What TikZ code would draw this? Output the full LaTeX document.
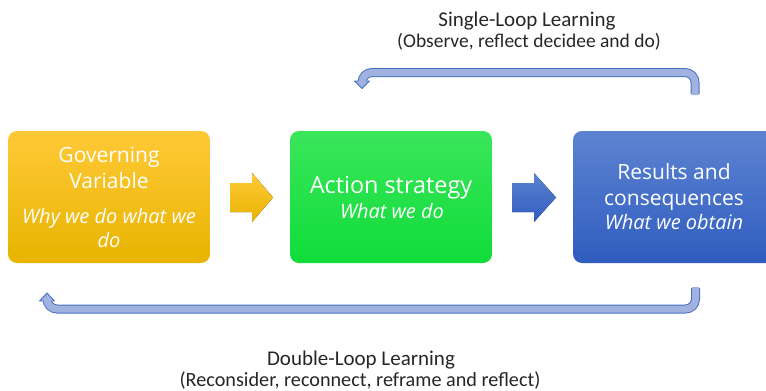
\documentclass[tikz,border=0pt]{standalone}
\usepackage{fontspec}
\setmainfont{Open Sans}
\newfontfamily\lblfont{Carlito}
\definecolor{yelT}{RGB}{255,201,55}
\definecolor{yelB}{RGB}{232,180,0}
\definecolor{grnT}{RGB}{58,230,90}
\definecolor{grnB}{RGB}{16,220,58}
\definecolor{bluT}{RGB}{92,132,210}
\definecolor{bluB}{RGB}{48,92,190}
\definecolor{loopEdge}{RGB}{70,114,196}
\definecolor{loopFill}{RGB}{162,178,224}
\begin{document}
\begin{tikzpicture}[x=1pt,y=-1pt,
  box/.style={rounded corners=9pt, minimum width=202pt, minimum height=132pt, inner sep=0pt, draw=none},
  head/.style={font=\fontsize{21}{21}\selectfont, text=white, anchor=base, inner sep=0pt},
  sub/.style={font=\fontsize{20}{20}\selectfont\itshape, text=white, anchor=base, inner sep=0pt},
  lbl/.style={font=\lblfont\fontsize{19.5}{19.5}\selectfont, text=black!85, anchor=base, inner sep=0pt},
  loopout/.style={draw=loopEdge, line width=9pt, rounded corners=10pt},
  loopin/.style={draw=loopFill, line width=7pt, rounded corners=10pt},
  loophead/.style={fill=loopFill, draw=loopEdge, line width=0.9pt, line join=round}
]
\useasboundingbox (0,0) rectangle (766,391);

% boxes
\node[box, top color=yelT, bottom color=yelB] (gv) at (109,197) {};
\node[box, top color=grnT, bottom color=grnB] (as) at (391,197) {};
\node[box, top color=bluT, bottom color=bluB] (rc) at (674,197) {};

% box texts
\node[head] (gv1) at (109,162) {Governing};
\node[head] (gv2) at (109,188) {Variable};
\node[sub]  (gv3) at (109,223) {Why we do what we};
\node[sub]  (gv4) at (109,247) {do};

\node[head, font=\fontsize{23.4}{23.4}\selectfont] (as1) at (391,193) {Action strategy};
\node[sub]  (as2) at (392,218) {What we do};

\node[head] (rc1) at (674,179) {Results and};
\node[head] (rc2) at (674,205) {consequences};
\node[sub]  (rc3) at (674,229) {What we obtain};

% block arrows
\fill[top color=yelT, bottom color=yelB]
  (230,183) -- (252,183) -- (252,173) -- (273,197.5) -- (252,222) -- (252,212) -- (230,212) -- cycle;
\fill[top color=bluT, bottom color=bluB]
  (512,183) -- (534,183) -- (534,173) -- (556,197.5) -- (534,222) -- (534,212) -- (512,212) -- cycle;

% single loop (top)
\coordinate (s0) at (695,94);
\coordinate (s1) at (695,72.5);
\coordinate (s2) at (362,72.5);
\coordinate (s3) at (362,81);
\coordinate (s3b) at (362,81.6);
\draw[loopout] (s0) -- (s1) -- (s2) -- (s3);
\draw[loophead] (354.5,81) -- (369.5,81) -- (362,88.5) -- cycle;
\draw[loopin] ([yshift=-1pt]s0) -- (s1) -- (s2) -- (s3b);

% double loop (bottom)
\coordinate (d0) at (695.5,288);
\coordinate (d1) at (695.5,309);
\coordinate (d2) at (47,309);
\coordinate (d3) at (47,301);
\coordinate (d3b) at (47,300.4);
\draw[loopout] (d0) -- (d1) -- (d2) -- (d3);
\draw[loophead] (39.5,301) -- (54.5,301) -- (47,293) -- cycle;
\draw[loopin] ([yshift=1pt]d0) -- (d1) -- (d2) -- (d3b);

% labels
\node[lbl, font=\lblfont\fontsize{21}{21}\selectfont] (sl1) at (527,26) {Single-Loop Learning};
\node[lbl] (sl2) at (529,47) {(Observe, reflect decidee and do)};
\node[lbl, font=\lblfont\fontsize{21}{21}\selectfont] (dl1) at (361,365) {Double-Loop Learning};
\node[lbl, font=\lblfont\fontsize{20.2}{20.2}\selectfont] (dl2) at (360,386) {(Reconsider, reconnect, reframe and reflect)};
\end{tikzpicture}
\end{document}
